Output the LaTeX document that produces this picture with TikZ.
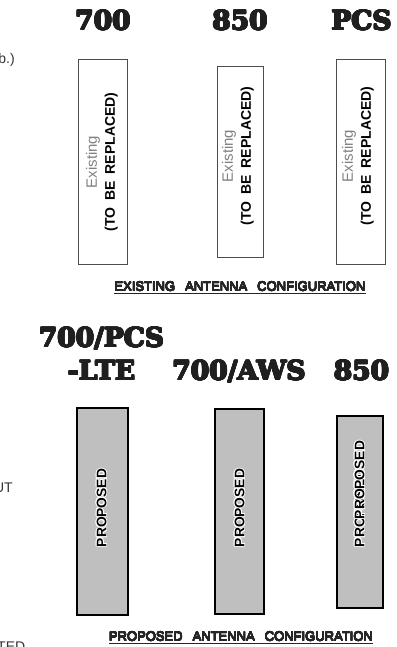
\documentclass[tikz,border=0pt]{standalone}
\usepackage{fontspec}
\setmainfont{Liberation Sans}
\newfontfamily\slabfont{DejaVu Serif}
\usepackage{contour}
\contourlength{0.9pt}
\usetikzlibrary{positioning}

\newcommand\replacedtag{{\color{black!50}\fontsize{15}{18}\selectfont Existing}\\
  {\bfseries\fontsize{14}{18}\selectfont (TO\hspace{7pt}BE\hspace{7pt}REPLACED)}}
\newcommand\heavy[1]{{\contourlength{0.7pt}\contour{black!88}{#1}}}
\newcommand\inked[1]{{\contourlength{0.15pt}\contour{black!85}{#1}}}

\begin{document}
\begin{tikzpicture}[
  x=1pt, y=-1pt,
  band/.style    = {font=\slabfont\bfseries\fontsize{26.5}{30}\selectfont,
                    text=black!88, inner sep=0pt, anchor=base},
  oldant/.style  = {draw=black!70, line width=0.8pt, inner sep=0pt},
  newant/.style  = {draw=black, fill=black!25, line width=1.8pt, inner sep=0pt},
  oldtag/.style  = {rotate=90, align=center, inner sep=0pt,
                    font=\fontsize{14}{18}\selectfont},
  newtag/.style  = {rotate=90, inner sep=0pt,
                    font=\bfseries\fontsize{13.8}{16}\selectfont},
  caption/.style = {inner sep=0pt, anchor=base, text=black!85,
                    font=\fontsize{13}{15}\selectfont},
  rule/.style    = {line width=1.3pt, black!85},
  stub/.style    = {inner sep=0pt, anchor=base east, text=black!80,
                    font=\fontsize{14}{16}\selectfont}
]
  \useasboundingbox (0,0) rectangle (396,647);
  \clip (0,0) rectangle (396,647);

  % Cut-off notes at the left edge
  \node[stub] (notea) at (15,64)  {b.)};
  \node[stub] (noteb) at (13,492) {UT};
  \node[stub, anchor=base west] (notec) at (-3,651) {TED};

  % Existing: band headings
  \node[band] (h700) at (103,30)   {\heavy{700}};
  \node[band] (h850) at (240,30)   {\heavy{850}};
  \node[band] (hpcs) at (361.5,30) {\heavy{PCS}};

  % Existing: antennas
  \node[oldant, minimum width=49pt, minimum height=205pt] (old700) at (102.5,161.5) {};
  \node[oldant, minimum width=46pt, minimum height=191pt] (old850) at (240,161.5)   {};
  \node[oldant, minimum width=49pt, minimum height=205pt] (oldpcs) at (360.5,161.5) {};

  \node[oldtag] (tag700) at (102,162) {\replacedtag};
  \node[oldtag] (tag850) at (238,156) {\replacedtag};
  \node[oldtag] (tagpcs) at (358,156) {\replacedtag};

  \node[caption] (capold) at (240,291)
    {\inked{EXISTING\hspace{10pt}ANTENNA\hspace{10pt}CONFIGURATION}};
  \draw[rule] ([yshift=-2.5pt]capold.base west) -- ([yshift=-2.5pt]capold.base east);

  % Proposed: band headings
  \node[band] (h700pcs) at (101.5,347) {\heavy{700/PCS}};
  \node[band] (hlte)    at (101.5,380) {\heavy{-LTE}};
  \node[band] (h700aws) at (239,380)   {\heavy{700/AWS}};
  \node[band] (h850new) at (361.5,380) {\heavy{850}};

  % Proposed: antennas
  \node[newant, minimum width=51pt, minimum height=207pt] (new1) at (102.5,511.5) {};
  \node[newant, minimum width=49pt, minimum height=205pt] (new2) at (239.5,511.5) {};
  \node[newant, minimum width=46pt, minimum height=192pt] (new3) at (360,512)     {};

  \node[newtag] (tag1)  at (102,508) {\contour{white}{PROPOSED}};
  \node[newtag] (tag2)  at (240,508) {\contour{white}{PROPOSED}};
  \node[newtag] (tag3a) at (360,508) {\contour{white}{PROPOSED}};
  \node[newtag] (tag3b) at (360,480) {\contour{white}{PROPOSED}};

  \node[caption] (capnew) at (241,641)
    {\inked{PROPOSED\hspace{10pt}ANTENNA\hspace{10pt}CONFIGURATION}};
  \draw[rule] ([yshift=-2.5pt]capnew.base west) -- ([yshift=-2.5pt]capnew.base east);
\end{tikzpicture}
\end{document}
